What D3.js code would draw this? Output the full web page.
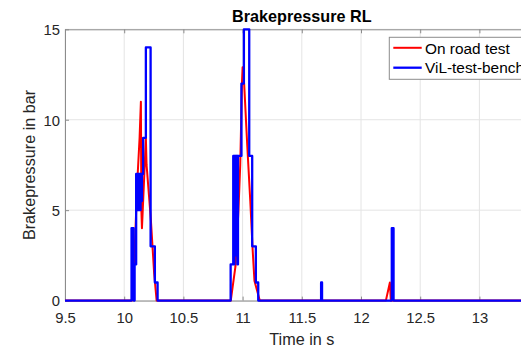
<!DOCTYPE html>
<html><head><meta charset="utf-8">
<script src="https://cdn.jsdelivr.net/npm/d3@7"></script>
<style>body{margin:0;background:#fff}svg{display:block}</style>
</head><body>
<svg id="c" width="521" height="351"></svg>
<script>
// ---- data ----
const xTicks = [9.5, 10, 10.5, 11, 11.5, 12, 12.5, 13];
const xTickLabels = ["9.5", "10", "10.5", "11", "11.5", "12", "12.5", "13"];
const yTicks = [0, 5, 10, 15];
const seriesNames = ["On road test", "ViL-test-bench"];
const chartTitle = "Brakepressure RL";
const xLabel = "Time in s";
const yLabel = "Brakepressure in bar";

// On road test (red), linear
const redT = [9.5, 10.065, 10.09, 10.11, 10.13, 10.141, 10.145, 10.15, 10.17, 10.183, 10.189, 10.225, 10.253, 10.274,
              10.9, 10.94, 10.965, 10.98, 10.995, 11.0, 11.013, 11.04, 11.065, 11.085, 11.1, 11.145,
              12.21, 12.244, 12.252, 13.5];
const redV = [0, 0, 3, 6.5, 9, 11, 5, 4, 7, 9, 7.5, 4.5, 1.5, 0,
              0, 1.9, 5, 7.5, 12.1, 12.9, 12, 8.5, 5.5, 2.8, 1.1, 0,
              0, 1, 0, 0];

// ViL-test-bench (blue), stepped signal (value holds until next time)
const blueT = [9.5, 10.062, 10.080, 10.088, 10.101, 10.108, 10.114, 10.120, 10.126, 10.132, 10.138, 10.144, 10.150,
               10.160, 10.183, 10.223, 10.259, 10.282,
               10.899, 10.921, 10.926, 10.931, 10.936, 10.941, 10.946, 10.951, 10.956, 10.961, 10.99, 11.011,
               11.056, 11.081, 11.112, 11.132,
               11.663, 11.671, 12.26, 12.275, 13.5];
const blueV = [0, 4, 0, 2, 7, 5, 7, 5, 7, 5, 7, 5.5, 7,
               9, 14, 3, 1, 0,
               2, 8, 2, 8, 2.5, 8, 3, 8, 2, 8, 12, 15,
               8, 3, 1, 0,
               1, 0, 4, 0, 0];

// ---- layout ----
const svg = d3.select("#c");
const L = 65, R = 538.6, T = 29.3, B = 300.6;
const x = d3.scaleLinear().domain([9.5, 13.5]).range([L, R]);
const y = d3.scaleLinear().domain([0, 15]).range([B, T]);
const axisColor = "#8c8c8c", textColor = "#262626";
const tickFont = 14.8, labelFont = 16.2, legendFont = 15.4;

svg.append("rect").attr("x", L).attr("y", T).attr("width", R - L).attr("height", B - T).attr("fill", "#fff");

// grid
const grid = svg.append("g");
grid.selectAll("line.gx").data(xTicks).join("line")
  .attr("x1", d => x(d)).attr("x2", d => x(d)).attr("y1", T).attr("y2", B)
  .attr("stroke", "#e4e4e4").attr("stroke-width", 1);
grid.selectAll("line.gy").data(yTicks).join("line")
  .attr("x1", L).attr("x2", R).attr("y1", d => y(d)).attr("y2", d => y(d))
  .attr("stroke", "#e4e4e4").attr("stroke-width", 1);

// axes
function styleAxis(g) {
  g.select(".domain").attr("stroke", axisColor);
  g.selectAll(".tick line").attr("stroke", axisColor);
  g.selectAll("text").attr("fill", textColor).attr("font-family", "'Liberation Sans', Arial, sans-serif")
    .attr("font-size", tickFont);
}
const xa = svg.append("g").attr("transform", `translate(0,${B})`)
  .call(d3.axisBottom(x).tickValues(xTicks).tickFormat((d, i) => xTickLabels[i]).tickSizeInner(-4).tickSizeOuter(0));
styleAxis(xa);
xa.selectAll("text").attr("y", 22.7).attr("dy", 0);
svg.append("g").attr("transform", `translate(0,${T})`)
  .call(d3.axisTop(x).tickValues(xTicks).tickFormat("").tickSizeInner(-4).tickSizeOuter(0)).call(styleAxis);
const ya = svg.append("g").attr("transform", `translate(${L},0)`)
  .call(d3.axisLeft(y).tickValues(yTicks).tickSizeInner(-4).tickSizeOuter(0).tickPadding(5));
styleAxis(ya);
ya.selectAll("text").attr("dy", "0.36em");
svg.append("g").attr("transform", `translate(${R},0)`)
  .call(d3.axisRight(y).tickValues(yTicks).tickFormat("").tickSizeInner(-4).tickSizeOuter(0)).call(styleAxis);

// lines
const redLine = d3.line().x(i => x(redT[i])).y(i => y(redV[i]));
const blueLine = d3.line().curve(d3.curveStepAfter).x(i => x(blueT[i])).y(i => y(blueV[i]));
svg.append("path").attr("d", redLine(d3.range(redT.length)))
  .attr("fill", "none").attr("stroke", "#ff0000").attr("stroke-width", 2).attr("stroke-linejoin", "round");
svg.append("path").attr("d", blueLine(d3.range(blueT.length)))
  .attr("fill", "none").attr("stroke", "#0000ff").attr("stroke-width", 2.3).attr("stroke-linejoin", "round");

// titles
svg.append("text").attr("x", (L + R) / 2).attr("y", 21.7).attr("text-anchor", "middle")
  .attr("font-family", "'Liberation Sans', Arial, sans-serif").attr("font-weight", "bold")
  .attr("font-size", labelFont).attr("fill", "#000").text(chartTitle);
svg.append("text").attr("x", (L + R) / 2).attr("y", 345).attr("text-anchor", "middle")
  .attr("font-family", "'Liberation Sans', Arial, sans-serif")
  .attr("font-size", labelFont).attr("fill", textColor).text(xLabel);
svg.append("text").attr("transform", `translate(35,${(T + B) / 2 + 0}) rotate(-90)`).attr("text-anchor", "middle")
  .attr("font-family", "'Liberation Sans', Arial, sans-serif")
  .attr("font-size", labelFont).attr("fill", textColor).text(yLabel);

// legend
const lg = svg.append("g");
lg.append("rect").attr("x", 389.3).attr("y", 37.3).attr("width", 142).attr("height", 42)
  .attr("fill", "#fff").attr("stroke", axisColor).attr("stroke-width", 1);
const colors = ["#ff0000", "#0000ff"];
const rows = [47.8, 67.7];
seriesNames.forEach((n, i) => {
  lg.append("line").attr("x1", 393.3).attr("x2", 421.7).attr("y1", rows[i]).attr("y2", rows[i])
    .attr("stroke", colors[i]).attr("stroke-width", i ? 2.3 : 2);
  lg.append("text").attr("x", 425).attr("y", rows[i] + 5.7)
    .attr("font-family", "'Liberation Sans', Arial, sans-serif").attr("font-size", legendFont)
    .attr("fill", "#000").text(n);
});
</script>
</body></html>
